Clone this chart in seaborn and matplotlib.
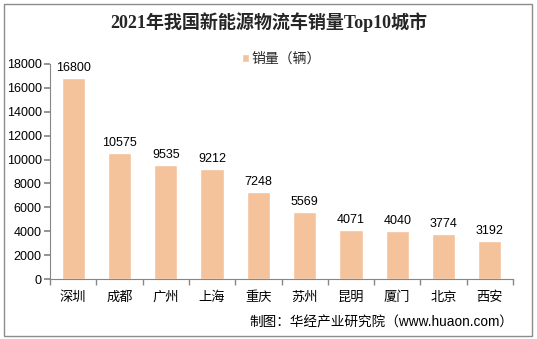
import matplotlib
matplotlib.use("Agg")
import matplotlib.pyplot as plt
import seaborn as sns
import pandas as pd
from matplotlib.patches import Rectangle

cities = ["深圳", "成都", "广州", "上海", "重庆", "苏州", "昆明", "厦门", "北京", "西安"]
sales = [16800, 10575, 9535, 9212, 7248, 5569, 4071, 4040, 3774, 3192]
yticks = [0, 2000, 4000, 6000, 8000, 10000, 12000, 14000, 16000, 18000]
title = "2021年我国新能源物流车销量Top10城市"
legend_label = "销量（辆）"
source = "制图：华经产业研究院（www.huaon.com）"

sns.set_theme(style="white")
plt.rcParams['font.family'] = ['Liberation Sans', 'Noto Sans CJK SC', 'DejaVu Sans']

df = pd.DataFrame({"city": cities, "sales": sales})
bar_color = "#F4C39C"

fig = plt.figure(figsize=(5.37, 3.39), dpi=100)
fig.patch.set_facecolor("white")
fig.add_artist(Rectangle((4/537, 3/339), 528/537, 332/339, transform=fig.transFigure,
                         fill=False, edgecolor="#8c8c8c", linewidth=1.0))

ax = fig.add_axes([50/537, 1 - 279/339, 463/537, 215/339])
sns.barplot(data=df, x="city", y="sales", color=bar_color, width=0.5, ax=ax,
            saturation=1, label=legend_label)
ax.set_ylim(0, 18000)
ax.set_xlim(-0.5, len(cities) - 0.5)
ax.set_yticks(yticks)
ax.set_yticklabels([str(v) for v in yticks], fontsize=9, color="#000000")
ax.set_xlabel("")
ax.set_ylabel("")
for s in ["top", "right"]:
    ax.spines[s].set_visible(False)
for s in ["left", "bottom"]:
    ax.spines[s].set_color("#868686")
    ax.spines[s].set_linewidth(0.8)
ax.tick_params(axis="y", which="major", direction="out", length=4, color="#868686",
               left=True, pad=2)
ax.set_xticks(range(len(cities)))
ax.set_xticklabels(cities, fontsize=9.5, color="#000000")
ax.tick_params(axis="x", which="major", length=0, pad=9)
ax.set_xticks([i + 0.5 for i in range(-1, len(cities))], minor=True)
ax.tick_params(axis="x", which="minor", direction="out", length=4, color="#868686", bottom=True)

for i, v in enumerate(sales):
    ax.text(i, v + 350, str(v), ha="center", va="bottom", fontsize=9, color="#000000")

leg = ax.legend(loc="upper center", bbox_to_anchor=(0.5, 1.115), frameon=False, fontsize=10,
                handlelength=0.45, handleheight=0.45, handletextpad=0.2)

fig.text(0.5, 1 - 22/339, title, ha="center", va="center", fontsize=13, fontweight="bold",
         family=["Liberation Serif", "Noto Sans CJK SC"])
fig.text(513/537, 1 - 322/339, source, ha="right", va="center", fontsize=9.8, color="#000000")

fig.savefig("out.png", dpi=100)
